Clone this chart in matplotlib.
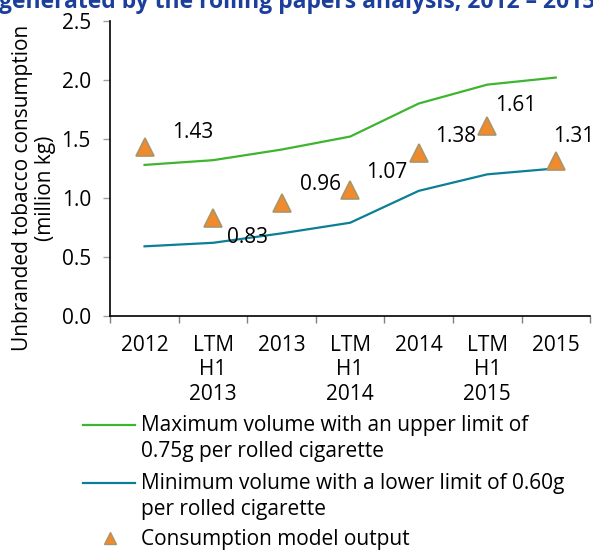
import matplotlib
matplotlib.use("Agg")
import matplotlib.pyplot as plt
from matplotlib.lines import Line2D
import numpy as np

plt.rcParams['font.family'] = ['Open Sans', 'DejaVu Sans']

# Periods on the x axis
periods = ['2012', 'LTM\nH1\n2013', '2013', 'LTM\nH1\n2014', '2014', 'LTM\nH1\n2015', '2015']

# Volume bounds (million kg)
max_volume = [1.28, 1.32, 1.41, 1.52, 1.80, 1.96, 2.02]
min_volume = [0.59, 0.62, 0.70, 0.79, 1.06, 1.20, 1.25]

# Consumption model output (million kg)
model_output = [1.43, 0.83, 0.96, 1.07, 1.38, 1.61, 1.31]

# Where each value label sits relative to its triangle (pixels)
label_offsets = [(48, 15), (34, -19), (39, 18), (37, 17), (37, 17), (28, 20), (18, 25)]

GREEN = '#3DB52E'
TEAL = '#0A7F96'
ORANGE = '#F08A2C'
TAN = '#A8956A'
FS = 15
W, H = 593, 550
LEGEND_LINE_STEP = 25  # px between lines of a wrapped legend label


def fx(px):
    return px / W


def fy(py):
    return 1 - py / H


fig = plt.figure(figsize=(W / 100, H / 100), dpi=100)
ax = fig.add_axes([0.186, 0.4255, 0.809, 0.5365])

x = np.arange(len(periods))
ax.plot(x, max_volume, color=GREEN, lw=1.6)
ax.plot(x, min_volume, color=TEAL, lw=1.6)
ax.plot(x, model_output, linestyle='none', marker='^', markersize=13,
        markerfacecolor=ORANGE, markeredgecolor=TAN, markeredgewidth=1.2)

for xi, val, off in zip(x, model_output, label_offsets):
    ax.annotate(f'{val:.2f}', (xi, val), xytext=off, textcoords='offset pixels',
                ha='center', va='center', fontsize=FS, color='black')

ax.set_xlim(-0.5, len(periods) - 0.5)
ax.set_ylim(0, 2.5)
yticks = np.arange(0, 2.51, 0.5)
ax.set_yticks(yticks)
ax.set_yticklabels([f'{v:.1f}' for v in yticks], fontsize=FS)

# labels at category centres, tick marks at category boundaries
ax.set_xticks(x)
ax.set_xticklabels(periods, fontsize=FS, linespacing=1.22)
ax.set_xticks(np.arange(-0.5, len(periods)), minor=True)
ax.tick_params(axis='x', which='major', length=0, pad=13.5)
ax.tick_params(axis='x', which='minor', length=5, color='#808080', width=1)
ax.tick_params(axis='y', length=5, color='#A0A0A0', width=1, pad=9)

for side in ['top', 'right']:
    ax.spines[side].set_visible(False)
ax.spines['left'].set_linewidth(1.2)
ax.spines['bottom'].set_linewidth(1.2)

fig.text(fx(34), fy(188), 'Unbranded tobacco consumption\n(million kg)',
         rotation=90, ha='center', va='center', fontsize=FS,
         multialignment='center', linespacing=1.12)

fig.text(-0.002, 0.986, 'generated by the rolling papers analysis, 2012 \u2013 2015',
         ha='left', va='baseline', fontsize=16.5, fontweight='bold', color='#1C3F9C')

# legend below the plot: the key sits level with the first line of its label
legend_rows = [
    ('line', GREEN, 425, 'Maximum volume with an upper limit of\n0.75g per rolled cigarette'),
    ('line', TEAL, 483, 'Minimum volume with a lower limit of 0.60g\nper rolled cigarette'),
    ('marker', ORANGE, 538, 'Consumption model output'),
]
for kind, color, row_y, text in legend_rows:
    if kind == 'line':
        fig.add_artist(Line2D([fx(83), fx(135)], [fy(row_y), fy(row_y)],
                              color=color, lw=1.6, transform=fig.transFigure))
    else:
        fig.add_artist(Line2D([fx(110)], [fy(row_y)], linestyle='none', marker='^',
                              markersize=9, markerfacecolor=color, markeredgecolor=TAN,
                              transform=fig.transFigure))
    # va='baseline' pins the last line, so step down past the earlier ones
    last_baseline = row_y + 7 + LEGEND_LINE_STEP * text.count('\n')
    fig.text(fx(141), fy(last_baseline), text, ha='left', va='baseline',
             fontsize=FS, linespacing=1.3)

fig.savefig('out.png', dpi=100)
